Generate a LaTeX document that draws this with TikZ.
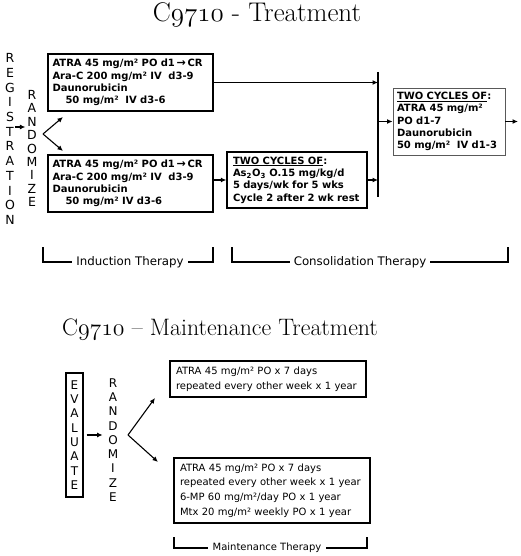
\documentclass[tikz,border=0pt]{standalone}
\usepackage{fix-cm}
\usepackage{fontspec}
\newfontfamily\dv{DejaVu Sans}
\usetikzlibrary{arrows.meta}
\tikzset{
  arr/.style={-{Latex[length=5.5pt,width=5pt]}, line width=1.1pt},
  ttlA/.style={anchor=base, inner sep=0pt, font=\fontsize{27}{32}\selectfont},
  ttlB/.style={anchor=base, inner sep=0pt, font=\fontsize{23.8}{28}\selectfont},
  bbox/.style={draw, line width=1.3pt, align=left, inner sep=0pt,
    font=\dv\bfseries\fontsize{10}{12.4}\selectfont},
  mbox/.style={draw, line width=1.3pt, align=left, inner sep=0pt,
    font=\dv\fontsize{10}{14.6}\selectfont},
  vlet/.style={align=center, inner sep=0pt, font=\dv\fontsize{12.5}{14.7}\selectfont},
  vletb/.style={align=center, inner sep=0pt, font=\dv\fontsize{12.5}{13.4}\selectfont},
  vletc/.style={align=center, inner sep=0pt, font=\dv\fontsize{12}{14.3}\selectfont},
  brk/.style={inner ysep=0pt, inner xsep=4pt, font=\dv\fontsize{11.8}{13}\selectfont},
  brkm/.style={inner ysep=0pt, inner xsep=4pt, font=\dv\fontsize{10}{12}\selectfont},
  bl/.style={line width=1.2pt},
}
\newcommand\rarr{\,{\fontsize{11}{11}\selectfont →}\,}
\begin{document}
\begin{tikzpicture}[x=1pt,y=-1pt]
\useasboundingbox[fill=white] (0,0) rectangle (520,556);

% ---------- Treatment ----------
\node[ttlA] (t1) at (257,22) {C$\mathnormal{9710}$ - Treatment};

\node[vlet] (reg) at (10,139) {R\\E\\G\\I\\S\\T\\R\\A\\T\\I\\O\\N};
\node[vletb] (rnd) at (32,148.5) {R\\A\\N\\D\\O\\M\\I\\Z\\E};
\coordinate (ry) at (0,127);
\draw[arr, shorten >=1pt] (reg.east |- ry) -- (rnd.west |- ry);

\coordinate (v1) at (43,134);
\coordinate (u1) at (63,117);
\coordinate (l1) at (63,151);
\draw[arr] (v1) -- (u1);
\draw[arr] (v1) -- (l1);

\node[bbox, minimum width=165, minimum height=57, text width=156] (b1) at (130.5,82.5)
  {ATRA 45 mg/m² PO d1\rarr CR\\Ara-C 200 mg/m² IV\ \ d3-9\\Daunorubicin\\\hspace*{13pt}50 mg/m²\ \ IV d3-6};
\node[bbox, minimum width=165, minimum height=57, text width=156] (b2) at (130.5,183.5)
  {ATRA 45 mg/m² PO d1\rarr CR\\Ara-C 200 mg/m² IV\ \ d3-9\\Daunorubicin\\\hspace*{13pt}50 mg/m² IV d3-6};
\node[bbox, minimum width=140, minimum height=56, text width=128] (cons) at (297,180)
  {\underline{TWO CYCLES OF}:\\As\textsubscript{2}O\textsubscript{3} O.15 mg/kg/d\\5 days/wk for 5 wks\\Cycle 2 after 2 wk rest};
\node[bbox, draw=black!65, line width=0.9pt, minimum width=112, minimum height=67, text width=104] (last) at (449,121.5)
  {\underline{TWO CYCLES OF}:\\ATRA 45 mg/m²\\PO d1-7\\Daunorubicin\\50 mg/m²\ \ IV d1-3};

\coordinate (bt) at (378,72);
\coordinate (bb) at (378,197);
\draw[line width=1.3pt] (bt) -- (bb);

\draw[arr] (b1.east) -- (b1.east -| bt);
\draw[arr] (b2.east |- cons.west) -- (cons.west);
\draw[arr] (cons.east) -- (cons.east -| bt);
\draw[arr] (last.west -| bt) -- (last.west);
\coordinate (out) at (518,121.5);
\draw[arr] (last.east) -- (out);

% brackets
\node[brk] (ind) at (130,262) {Induction Therapy};
\coordinate (iL) at (43,247);
\coordinate (iR) at (213,247);
\draw[bl] (iL) |- (ind.west);
\draw[bl] (iR) |- (ind.east);

\node[brk] (con) at (360,262) {Consolidation Therapy};
\coordinate (cL) at (232,247);
\coordinate (cR) at (508,247);
\draw[bl] (cL) |- (con.west);
\draw[bl] (cR) |- (con.east);

% ---------- Maintenance ----------
\node[ttlB] (t2) at (220,335) {C$\mathnormal{9710}$ – Maintenance Treatment};

\node[draw, line width=1.3pt, minimum width=17, minimum height=124, inner sep=0pt] (ev) at (74.5,435) {};
\node[vletc] (evt) at (ev.center) {E\\V\\A\\L\\U\\A\\T\\E};
\node[vletc] (rnd2) at (113,440) {R\\A\\N\\D\\O\\M\\I\\Z\\E};
\draw[arr, shorten <=3pt, shorten >=5pt] (ev.east) -- (rnd2.west |- ev.east);

\coordinate (v2) at (128,435);
\coordinate (u2) at (155,398);
\coordinate (l2) at (158,462);
\draw[arr] (v2) -- (u2);
\draw[arr] (v2) -- (l2);

\node[mbox, minimum width=196, minimum height=36, text width=184] (m1) at (268,379)
  {ATRA 45 mg/m² PO x 7 days\\repeated every other week x 1 year};
\node[mbox, minimum width=196, minimum height=65, text width=184] (m2) at (272,490.5)
  {ATRA 45 mg/m² PO x 7 days\\repeated every other week x 1 year\\6-MP 60 mg/m²/day PO x 1 year\\Mtx 20 mg/m² weekly PO x 1 year};

\node[brkm] (mt) at (267,548) {Maintenance Therapy};
\coordinate (mL) at (174,537);
\coordinate (mR) at (367,537);
\draw[bl] (mL) |- (mt.west);
\draw[bl] (mR) |- (mt.east);
\end{tikzpicture}
\end{document}
